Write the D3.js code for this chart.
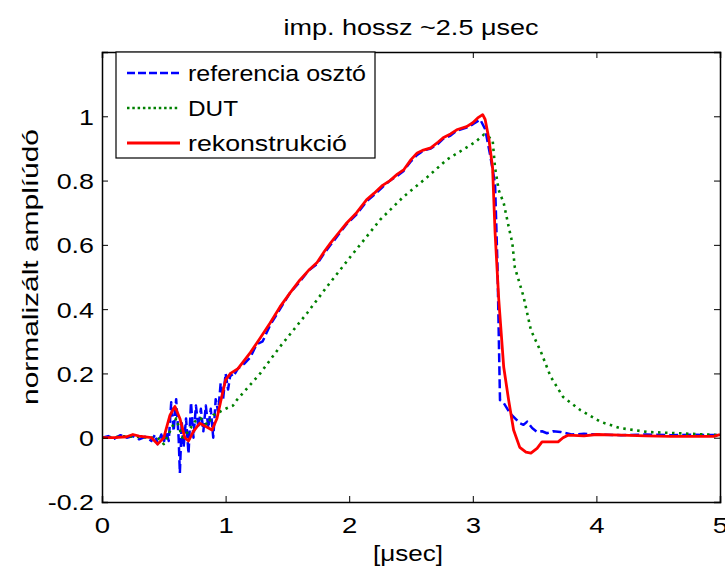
<!DOCTYPE html>
<html><head><meta charset="utf-8">
<script src="https://cdn.jsdelivr.net/npm/d3@7"></script>
<style>body{margin:0;background:#fff}text{font-family:"Liberation Sans",Arial,sans-serif;fill:#000}</style>
</head><body><svg id="c" width="725" height="568"></svg>
<script>
const seriesNames = ["referencia osztó", "DUT", "rekonstrukció"];
const xTicks = [0, 1, 2, 3, 4, 5];
const yTicks = [-0.2, 0, 0.2, 0.4, 0.6, 0.8, 1];

const tRec = [0,0.1,0.2,0.25,0.3,0.4,0.45,0.5,0.55,0.59,0.63,0.67,0.7,0.74,0.79,0.84,0.89,0.93,0.97,1.0,1.04,1.1,1.2,1.28,1.36,1.44,1.52,1.6,1.67,1.74,1.8,1.85,1.92,1.98,2.06,2.14,2.2,2.27,2.33,2.39,2.44,2.5,2.55,2.6,2.66,2.72,2.76,2.82,2.87,2.95,3.0,3.04,3.08,3.1,3.13,3.16,3.18,3.21,3.25,3.29,3.33,3.38,3.43,3.47,3.52,3.56,3.69,3.73,3.77,3.9,4.0,4.2,4.4,4.6,4.8,4.95,5];
const vRec = [0,0,0.003,0.01,0.005,0,-0.02,0.0,0.07,0.097,0.06,0.0,-0.01,0.02,0.045,0.035,0.024,0.06,0.13,0.18,0.2,0.215,0.265,0.31,0.357,0.407,0.45,0.49,0.52,0.545,0.58,0.606,0.64,0.668,0.70,0.74,0.76,0.785,0.80,0.82,0.833,0.865,0.886,0.895,0.902,0.92,0.933,0.945,0.958,0.968,0.98,0.995,1.005,0.99,0.93,0.84,0.64,0.43,0.22,0.117,0.024,-0.03,-0.045,-0.048,-0.033,-0.013,-0.013,0,0.008,0.006,0.01,0.008,0.006,0.004,0.004,0.004,0.01];

const tRef = [0,0.05,0.1,0.15,0.2,0.25,0.3,0.35,0.4,0.43,0.45,0.48,0.5,0.52,0.54,0.56,0.58,0.6,0.62,0.63,0.645,0.66,0.68,0.7,0.72,0.74,0.76,0.78,0.8,0.82,0.84,0.86,0.88,0.9,0.92,0.94,0.96,0.98,1.0,1.02,1.04,1.06,1.1,1.15,1.2,1.25,1.3,1.36,1.44,1.52,1.6,1.67,1.74,1.8,1.85,1.92,1.98,2.06,2.14,2.2,2.27,2.33,2.39,2.44,2.5,2.55,2.6,2.66,2.72,2.76,2.82,2.87,2.95,3.0,3.06,3.1,3.14,3.18,3.2,3.21,3.22,3.25,3.3,3.33,3.38,3.41,3.44,3.48,3.52,3.56,3.6,3.65,3.71,3.8,3.9,4.0,4.2,4.4,4.6,4.8,5];
const vRef = [0,0.005,-0.003,0.008,0,0.005,-0.005,0.003,-0.01,0.01,-0.02,0.01,-0.015,0.02,-0.01,0.11,0.02,0.12,0.0,-0.11,0.05,-0.03,0.06,-0.05,0.11,0.0,0.1,0.03,0.09,0.02,0.1,0.03,0.09,0.0,0.12,0.08,0.17,0.12,0.2,0.15,0.2,0.19,0.215,0.23,0.25,0.29,0.3,0.35,0.4,0.45,0.485,0.52,0.54,0.575,0.6,0.635,0.665,0.695,0.735,0.755,0.78,0.8,0.815,0.83,0.86,0.88,0.893,0.9,0.915,0.93,0.94,0.955,0.965,0.975,0.99,0.96,0.88,0.79,0.53,0.32,0.117,0.108,0.077,0.065,0.045,0.04,0.05,0.03,0.018,0.02,0.014,0.02,0.018,0.01,0.012,0.01,0.008,0.01,0.008,0.009,0.008];

const tDut = [0,0.1,0.2,0.3,0.4,0.45,0.5,0.55,0.6,0.65,0.7,0.75,0.8,0.85,0.9,0.95,1.0,1.06,1.09,1.28,1.44,1.66,1.82,2.01,2.14,2.25,2.44,2.63,2.79,2.92,3.02,3.09,3.13,3.16,3.18,3.21,3.25,3.29,3.32,3.34,3.41,3.47,3.55,3.63,3.73,3.87,4.03,4.19,4.41,4.66,5];
const vDut = [0,0.002,0.005,0.002,0,0,-0.02,0.02,0.06,0.0,0.02,0.05,0.06,0.04,0.07,0.08,0.09,0.10,0.117,0.20,0.283,0.388,0.47,0.563,0.625,0.678,0.75,0.81,0.865,0.896,0.92,0.943,0.935,0.927,0.84,0.77,0.73,0.657,0.605,0.53,0.44,0.335,0.268,0.19,0.127,0.086,0.05,0.03,0.018,0.014,0.008];

const m = {l:102, r:720, t:52, b:502};
const x = d3.scaleLinear().domain([0,5]).range([m.l, m.r]);
const y = d3.scaleLinear().domain([-0.2,1.2]).range([m.b, m.t]);
const svg = d3.select("#c");
const FONT = 22;

// stretch text horizontally (reference text is wide)
function stretch(sel, f) {
  sel.each(function() {
    const w = this.getComputedTextLength();
    d3.select(this).attr("textLength", w * f).attr("lengthAdjust", "spacingAndGlyphs");
  });
}
function fitTo(sel, w) {
  sel.attr("textLength", w).attr("lengthAdjust", "spacingAndGlyphs");
}

const colors = ["#0000ff", "#008000", "#ff0000"];
const dashes = ["9,4", "2.5,4.5", null];
const legDashes = ["8,3", "2.5,2.8", null];
const widths = [2.5, 2.6, 2.8];
const data = [d3.zip(tRef, vRef), d3.zip(tDut, vDut), d3.zip(tRec, vRec)];
const line = d3.line().x(d => x(d[0])).y(d => y(d[1]));

svg.append("clipPath").attr("id","cl").append("rect")
  .attr("x", m.l).attr("y", m.t).attr("width", m.r-m.l).attr("height", m.b-m.t);
const g = svg.append("g").attr("clip-path","url(#cl)");
data.forEach((d,i) => {
  g.append("path").attr("d", line(d)).attr("fill","none")
    .attr("stroke", colors[i]).attr("stroke-width", widths[i])
    .attr("stroke-linejoin","round")
    .attr("stroke-dasharray", dashes[i]);
});

const tl = 6;
const xb = svg.append("g").attr("transform",`translate(0,${m.b})`)
  .call(d3.axisBottom(x).tickValues(xTicks).tickSize(-tl).tickPadding(15).tickFormat(d3.format("d")));
const xt = svg.append("g").attr("transform",`translate(0,${m.t})`)
  .call(d3.axisTop(x).tickValues(xTicks).tickSize(-tl).tickFormat(""));
const yl = svg.append("g").attr("transform",`translate(${m.l},0)`)
  .call(d3.axisLeft(y).tickValues(yTicks).tickSize(-tl).tickPadding(8).tickFormat(d => String(+d.toFixed(1))));
const yr = svg.append("g").attr("transform",`translate(${m.r},0)`)
  .call(d3.axisRight(y).tickValues(yTicks).tickSize(-tl).tickFormat(""));
[xb,xt,yl,yr].forEach(a => {
  a.select(".domain").attr("stroke","#000").attr("stroke-width",1.5);
  a.selectAll(".tick line").attr("stroke","#000");
  a.selectAll("text").attr("font-size", FONT).attr("font-family","'Liberation Sans',Arial,sans-serif").attr("fill","#000");
});
xb.selectAll("text").attr("dy","0.71em");
yl.selectAll("text").attr("dy","0.36em");
stretch(xb.selectAll("text"), 1.25);
stretch(yl.selectAll("text"), 1.22);

fitTo(svg.append("text").attr("x", 411).attr("y", 35).attr("text-anchor","middle")
  .attr("font-size", FONT).text("imp. hossz ~2.5 μsec"), 255);
fitTo(svg.append("text").attr("x", 408).attr("y", 561).attr("text-anchor","middle")
  .attr("font-size", FONT).text("[μsec]"), 70);
fitTo(svg.append("text").attr("transform","translate(38,267) rotate(-90)").attr("text-anchor","middle")
  .attr("font-size", FONT).text("normalizált amplíúdó"), 276);

// legend
const lg = svg.append("g");
lg.append("rect").attr("x",116).attr("y",52).attr("width",259).attr("height",106)
  .attr("fill","#fff").attr("stroke","#000").attr("stroke-width",1.2);
const legW = [178, 50, 159];
seriesNames.forEach((n,i) => {
  const yy = 73 + i*35;
  lg.append("line").attr("x1",127).attr("x2",180).attr("y1",yy).attr("y2",yy)
    .attr("stroke",colors[i]).attr("stroke-width",widths[i]).attr("stroke-dasharray",legDashes[i]);
  fitTo(lg.append("text").attr("x",188).attr("y",yy+8).attr("font-size",FONT).text(n), legW[i]);
});
</script></body></html>
